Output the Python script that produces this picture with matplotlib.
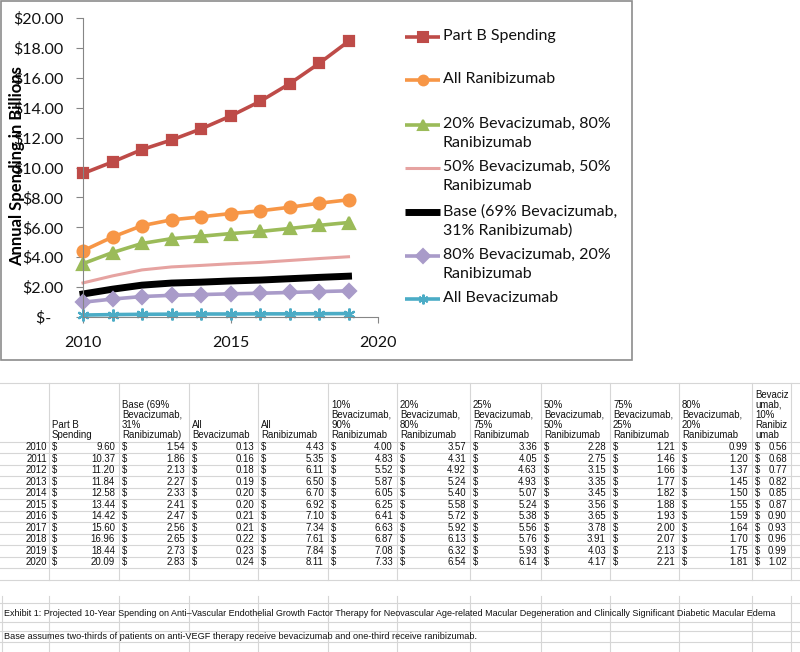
import matplotlib
matplotlib.use("Agg")
import matplotlib.pyplot as plt
from matplotlib.ticker import FuncFormatter, MultipleLocator
from matplotlib.patches import Rectangle

# data read from the worksheet
years = [2010, 2011, 2012, 2013, 2014, 2015, 2016, 2017, 2018, 2019, 2020]
part_b = [9.60, 10.37, 11.20, 11.84, 12.58, 13.44, 14.42, 15.60, 16.96, 18.44, 20.09]
base = [1.54, 1.86, 2.13, 2.27, 2.33, 2.41, 2.47, 2.56, 2.65, 2.73, 2.83]
all_bev = [0.13, 0.16, 0.18, 0.19, 0.20, 0.20, 0.21, 0.21, 0.22, 0.23, 0.24]
all_rani = [4.43, 5.35, 6.11, 6.50, 6.70, 6.92, 7.10, 7.34, 7.61, 7.84, 8.11]
bev10 = [4.00, 4.83, 5.52, 5.87, 6.05, 6.25, 6.41, 6.63, 6.87, 7.08, 7.33]
bev20 = [3.57, 4.31, 4.92, 5.24, 5.40, 5.58, 5.72, 5.92, 6.13, 6.32, 6.54]
bev25 = [3.36, 4.05, 4.63, 4.93, 5.07, 5.24, 5.38, 5.56, 5.76, 5.93, 6.14]
bev50 = [2.28, 2.75, 3.15, 3.35, 3.45, 3.56, 3.65, 3.78, 3.91, 4.03, 4.17]
bev75 = [1.21, 1.46, 1.66, 1.77, 1.82, 1.88, 1.93, 2.00, 2.07, 2.13, 2.21]
bev80 = [0.99, 1.20, 1.37, 1.45, 1.50, 1.55, 1.59, 1.64, 1.70, 1.75, 1.81]
bev90 = [0.56, 0.68, 0.77, 0.82, 0.85, 0.87, 0.90, 0.93, 0.96, 0.99, 1.02]

col_headers = ["Part B\nSpending", "Base (69%\nBevacizumab,\n31%\nRanibizumab)",
               "All\nBevacizumab", "All\nRanibizumab",
               "10%\nBevacizumab,\n90%\nRanibizumab", "20%\nBevacizumab,\n80%\nRanibizumab",
               "25%\nBevacizumab,\n75%\nRanibizumab", "50%\nBevacizumab,\n50%\nRanibizumab",
               "75%\nBevacizumab,\n25%\nRanibizumab", "80%\nBevacizumab,\n20%\nRanibizumab",
               "Bevaciz\numab,\n10%\nRanibiz\numab"]
table_cols = [part_b, base, all_bev, all_rani, bev10, bev20, bev25, bev50, bev75, bev80, bev90]

# chart series: label, values, color, marker, line width
chart_series = [
    ("Part B Spending", part_b, "#BE4B48", "s", 2.6),
    ("All Ranibizumab", all_rani, "#F79646", "o", 2.6),
    ("20% Bevacizumab, 80%\nRanibizumab", bev20, "#9BBB59", "^", 2.6),
    ("50% Bevacizumab, 50%\nRanibizumab", bev50, "#E6A3A1", None, 2.2),
    ("Base (69% Bevacizumab,\n31% Ranibizumab)", base, "#000000", None, 5.0),
    ("80% Bevacizumab, 20%\nRanibizumab", bev80, "#A99BC9", "D", 2.6),
    ("All Bevacizumab", all_bev, "#4BACC6", (6, 2, 0), 2.6),
]
n_chart = 10  # the chart shows 2010-2019

W, H = 800, 652
fig = plt.figure(figsize=(W / 100, H / 100), dpi=100)

# background layer in pixel coordinates (worksheet, frame, legend)
bg = fig.add_axes([0, 0, 1, 1])
bg.set_xlim(0, W)
bg.set_ylim(H, 0)
bg.axis("off")

grid_c = "#d6d6d6"
tfont = dict(family="Liberation Sans", fontsize=6.9, color="#111111")
col_edges = [0, 49, 119, 189, 258, 328, 397, 470, 541, 610, 679, 752, 791]
head_top, head_bot, row_h = 383, 441.5, 11.5
n_rows = len(years)
table_bottom = head_bot + row_h * (n_rows + 1)

# worksheet gridlines
for y in [head_top, head_bot] + [head_bot + row_h * (i + 1) for i in range(n_rows + 1)]:
    bg.plot([0, W], [y, y], color=grid_c, lw=0.8)
for x in col_edges[1:]:
    bg.plot([x, x], [head_top, table_bottom], color=grid_c, lw=0.8)

for j, head in enumerate(col_headers):
    bg.text(col_edges[j + 1] + 3, head_bot - 2, head, ha="left", va="bottom",
            linespacing=1.0, **tfont)

for i, yr in enumerate(years):
    yc = head_bot + row_h * (i + 0.5)
    bg.text(col_edges[1] - 2, yc, str(yr), ha="right", va="center", **tfont)
    for j, col in enumerate(table_cols):
        bg.text(col_edges[j + 1] + 3, yc, "$", ha="left", va="center", **tfont)
        bg.text(col_edges[j + 2] - 4, yc, f"{col[i]:.2f}", ha="right", va="center", **tfont)

# lower note rows
low_lines = [603, 622, 631, 642]
for y in low_lines:
    bg.plot([0, W], [y, y], color=grid_c, lw=0.8)
for x in [2] + col_edges[1:]:
    bg.plot([x, x], [596, H], color=grid_c, lw=0.8)
bg.add_patch(Rectangle((3, 604), 778, 17, facecolor="white", edgecolor="none"))
bg.add_patch(Rectangle((3, 632), 478, 9.5, facecolor="white", edgecolor="none"))
bg.text(4, 613, "Exhibit 1: Projected 10-Year Spending on Anti\u2013Vascular Endothelial Growth Factor "
        "Therapy for Neovascular Age-related Macular Degeneration and Clinically Significant "
        "Diabetic Macular Edema", ha="left", va="center", **dict(tfont, fontsize=6.5))
bg.text(4, 636.5, "Base assumes two-thirds of patients on anti-VEGF therapy receive bevacizumab "
        "and one-third receive ranibizumab.", ha="left", va="center", **dict(tfont, fontsize=6.6))

# chart frame
bg.add_patch(Rectangle((1, 1), 631, 359, facecolor="white", edgecolor="#8c8c8c", lw=1.2))

# legend drawn by hand to follow Excel's spacing
cfont = "Lato"
leg_y = [37, 80, 125, 168, 212, 256, 299]
for (label, vals, color, marker, lw), y in zip(chart_series, leg_y):
    bg.plot([405, 440], [y, y], color=color, lw=lw, solid_capstyle="butt")
    if marker is not None:
        bg.plot([422.5], [y], marker=marker, color=color, ms=7, mew=1.5, ls="none")
    bg.text(443, y - 8, label, ha="left", va="top", fontsize=11.5, family=cfont,
            linespacing=1.45, color="#111111")

# chart plot area
ax = fig.add_axes([83 / W, 1 - 317 / H, 295 / W, 299 / H])
ax.set_facecolor("none")
for label, vals, color, marker, lw in chart_series:
    ax.plot(years[:n_chart], vals[:n_chart], color=color, lw=lw, marker=marker,
            ms=8.5 if marker not in ("D", "s") else 7.5, mew=1.6, clip_on=False,
            solid_joinstyle="round")

ax.set_xlim(2010, 2020)
ax.set_ylim(0, 20)
ax.xaxis.set_major_locator(MultipleLocator(5))
ax.yaxis.set_major_locator(MultipleLocator(2))
ax.yaxis.set_major_formatter(FuncFormatter(lambda v, p: "$-   " if v == 0 else f"${v:.2f}"))
for s in ["top", "right"]:
    ax.spines[s].set_visible(False)
for s in ["left", "bottom"]:
    ax.spines[s].set_color("#868686")
ax.tick_params(axis="y", direction="out", length=5, color="#868686", pad=9,
               labelsize=11.5, labelcolor="#111111")
ax.tick_params(axis="x", direction="out", length=4, color="#868686", pad=10,
               labelsize=11.5, labelcolor="#111111")
for t in ax.get_xticklabels() + ax.get_yticklabels():
    t.set_family(cfont)
ax.set_ylabel("Annual Spending in Billions", fontsize=12, fontweight="bold", family=cfont)
ax.yaxis.set_label_coords((25 - 83) / 295, (317 - 166) / 299)

fig.savefig("out.png", dpi=100)
